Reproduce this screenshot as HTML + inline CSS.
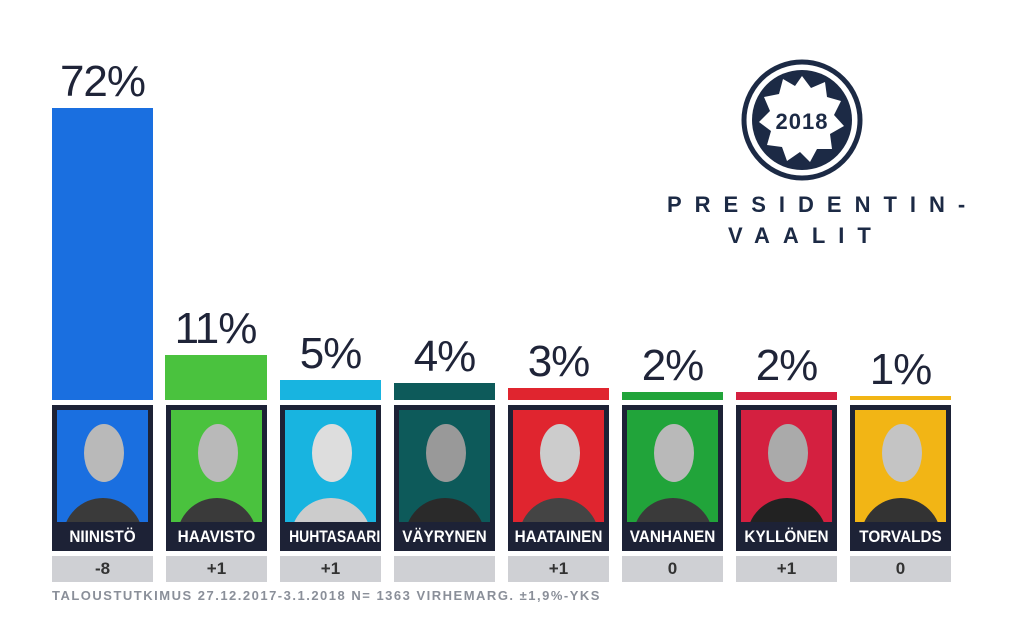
<!DOCTYPE html>
<html><head><meta charset="utf-8"><style>
body{margin:0;width:1024px;height:635px;background:#fff;position:relative;overflow:hidden;font-family:"Liberation Sans",sans-serif}
.a{position:absolute}
.pct{position:absolute;width:101px;text-align:center;font-size:44px;color:#1f2438;font-weight:normal;letter-spacing:-1px}
.fr{position:absolute;top:405px;width:101px;height:146px;background:#1d2236}
.ph{position:absolute;left:5px;top:5px;width:91px;height:112px;overflow:hidden}
.head{position:absolute;left:27px;top:14px;width:40px;height:58px;border-radius:50%;background:#b9b9b9}
.body{position:absolute;left:6px;top:88px;width:80px;height:40px;border-radius:40px 40px 0 0;background:#3a3a3a}
.nm{position:absolute;left:0;top:117px;width:101px;height:29px;line-height:29px;text-align:center;color:#fff;font-weight:bold;font-size:17px;transform:scaleX(.9)}
.gb{position:absolute;top:556px;width:101px;height:26px;background:#cfd0d4;text-align:center;line-height:26px;font-weight:bold;font-size:17px;color:#333}
</style></head><body>
<div class="a" style="left:52px;top:108px;width:101px;height:292px;background:#1a6fe0"></div>
<div class="a" style="left:165px;top:355px;width:102px;height:45px;background:#4ac23e"></div>
<div class="a" style="left:280px;top:380px;width:101px;height:20px;background:#18b4e0"></div>
<div class="a" style="left:394px;top:383px;width:101px;height:17px;background:#0d5a5a"></div>
<div class="a" style="left:508px;top:388px;width:101px;height:12px;background:#e0252f"></div>
<div class="a" style="left:622px;top:392px;width:101px;height:8px;background:#21a43a"></div>
<div class="a" style="left:736px;top:392px;width:101px;height:8px;background:#d42040"></div>
<div class="a" style="left:850px;top:396px;width:101px;height:4px;background:#f2b515"></div>

<div class="pct" style="left:52px;top:57px">72%</div>
<div class="pct" style="left:165px;top:304px">11%</div>
<div class="pct" style="left:280px;top:329px">5%</div>
<div class="pct" style="left:394px;top:332px">4%</div>
<div class="pct" style="left:508px;top:337px">3%</div>
<div class="pct" style="left:622px;top:341px">2%</div>
<div class="pct" style="left:736px;top:341px">2%</div>
<div class="pct" style="left:850px;top:345px">1%</div>

<div class="fr" style="left:52px"><div class="ph" style="background:#1a6fe0"><div class="head"></div><div class="body"></div></div><div class="nm">NIINISTÖ</div></div>
<div class="fr" style="left:166px"><div class="ph" style="background:#4ac23e"><div class="head"></div><div class="body"></div></div><div class="nm">HAAVISTO</div></div>
<div class="fr" style="left:280px"><div class="ph" style="background:#18b4e0"><div class="head" style="background:#ddd"></div><div class="body" style="background:#ccc"></div></div><div class="nm" style="transform:scaleX(.82)">HUHTASAARI</div></div>
<div class="fr" style="left:394px"><div class="ph" style="background:#0d5a5a"><div class="head" style="background:#999"></div><div class="body" style="background:#2a2a2a"></div></div><div class="nm">VÄYRYNEN</div></div>
<div class="fr" style="left:508px"><div class="ph" style="background:#e0252f"><div class="head" style="background:#ccc"></div><div class="body" style="background:#444"></div></div><div class="nm">HAATAINEN</div></div>
<div class="fr" style="left:622px"><div class="ph" style="background:#21a43a"><div class="head"></div><div class="body"></div></div><div class="nm">VANHANEN</div></div>
<div class="fr" style="left:736px"><div class="ph" style="background:#d42040"><div class="head" style="background:#aaa"></div><div class="body" style="background:#222"></div></div><div class="nm">KYLLÖNEN</div></div>
<div class="fr" style="left:850px"><div class="ph" style="background:#f2b515"><div class="head" style="background:#c4c4c4"></div><div class="body" style="background:#333"></div></div><div class="nm">TORVALDS</div></div>

<div class="gb" style="left:52px">-8</div>
<div class="gb" style="left:166px">+1</div>
<div class="gb" style="left:280px">+1</div>
<div class="gb" style="left:394px"></div>
<div class="gb" style="left:508px">+1</div>
<div class="gb" style="left:622px">0</div>
<div class="gb" style="left:736px">+1</div>
<div class="gb" style="left:850px">0</div>

<div class="a" style="left:52px;top:588px;font-size:13px;font-weight:bold;color:#8a8f99;letter-spacing:1.5px">TALOUSTUTKIMUS 27.12.2017-3.1.2018 N= 1363 VIRHEMARG. ±1,9%-YKS</div>

<svg class="a" style="left:740px;top:58px" width="124" height="124" viewBox="0 0 124 124">
<circle cx="62" cy="62" r="58" fill="none" stroke="#1c2a45" stroke-width="5"/>
<circle cx="62" cy="62" r="50" fill="#1c2a45"/>
<polygon fill="#fff" points="62,18 71,30 85,24 87,39 101,43 94,57 104,68 90,76 92,91 77,91 70,104 60,94 47,103 42,89 27,87 31,73 19,64 30,53 24,39 39,36 43,21 55,28" />
<text x="62" y="71" text-anchor="middle" font-family="Liberation Sans" font-weight="bold" font-size="22" fill="#1c2a45" letter-spacing="1">2018</text>
</svg>
<div class="a" style="left:667px;top:192px;font-size:22px;font-weight:bold;color:#1c2a45;letter-spacing:13px">PRESIDENTIN-</div>
<div class="a" style="left:728px;top:223px;font-size:22px;font-weight:bold;color:#1c2a45;letter-spacing:13px">VAALIT</div>
</body></html>
